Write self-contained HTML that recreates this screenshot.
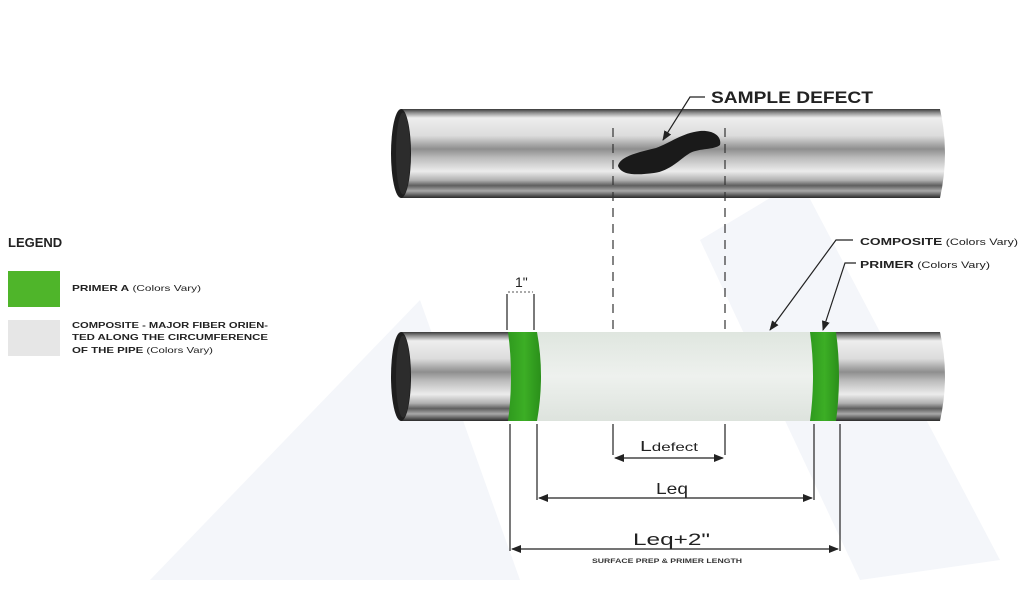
<!DOCTYPE html>
<html><head><meta charset="utf-8"><style>
html,body{margin:0;padding:0;background:#fff;}
svg{display:block;}
text{font-family:"Liberation Sans",Arial,sans-serif;}
</style></head><body>
<svg width="1024" height="614" viewBox="0 0 1024 614" xmlns="http://www.w3.org/2000/svg">
<defs>
<linearGradient id="metal" x1="0" y1="0" x2="0" y2="1">
<stop offset="0" stop-color="#3a3a3a"/>
<stop offset="0.04" stop-color="#8a8a8a"/>
<stop offset="0.1" stop-color="#eeeeee"/>
<stop offset="0.3" stop-color="#dcdcdc"/>
<stop offset="0.45" stop-color="#8e8e8e"/>
<stop offset="0.55" stop-color="#bcbcbc"/>
<stop offset="0.7" stop-color="#ececec"/>
<stop offset="0.8" stop-color="#b0b0b0"/>
<stop offset="0.86" stop-color="#5e5e5e"/>
<stop offset="0.92" stop-color="#a8a8a8"/>
<stop offset="1" stop-color="#2a2a2a"/>
</linearGradient>
<linearGradient id="comp" x1="0" y1="0" x2="0" y2="1">
<stop offset="0" stop-color="#dfe6df"/>
<stop offset="0.5" stop-color="#eef1ee"/>
<stop offset="1" stop-color="#dde3dd"/>
</linearGradient>
<linearGradient id="grn" x1="0" y1="0" x2="1" y2="0">
<stop offset="0" stop-color="#2f9a1e"/>
<stop offset="0.5" stop-color="#3cae25"/>
<stop offset="1" stop-color="#2a8f1a"/>
</linearGradient>
<marker id="ar" markerWidth="10" markerHeight="8" refX="9" refY="4" orient="auto-start-reverse" markerUnits="userSpaceOnUse">
<path d="M0,0 L10,4 L0,8 Z" fill="#222"/></marker>
</defs>
<!-- watermark -->
<g fill="#f4f6fa">
<polygon points="150,580 420,300 520,580"/>
<polygon points="700,240 800,180 1000,560 860,580"/>
</g>
<!-- Pipe 1 -->
<path d="M401,109 L940,109 Q950,153 940,198 L401,198 Z" fill="url(#metal)"/>
<ellipse cx="401" cy="153.5" rx="10" ry="44.5" fill="#1e1e1e"/>
<ellipse cx="403" cy="153.5" rx="7" ry="41" fill="#2c2c2c"/>
<path d="M618,166 C620,156 640,152 656,148 C670,143 682,133 700,131 C713,130 722,136 720,145 C714,150 700,148 690,153 C680,159 670,171 654,173 C638,175 622,176 618,166Z" fill="#1a1a1a"/>
<!-- pipe 2 -->
<path d="M401,332 L940,332 Q950,376 940,421 L401,421 Z" fill="url(#metal)"/>
<ellipse cx="401" cy="376.5" rx="10" ry="44.5" fill="#1e1e1e"/>
<ellipse cx="403" cy="376.5" rx="7" ry="41" fill="#2c2c2c"/>
<path d="M536,332 L815,332 Q822,376 815,421 L536,421 Q543,376 536,332Z" fill="url(#comp)"/>
<path d="M508,332 L537,332 Q545,376 537,421 L508,421 Q514,376 508,332Z" fill="url(#grn)"/>
<path d="M810,332 L836,332 Q842,376 836,421 L810,421 Q816,376 810,332Z" fill="url(#grn)"/>
<g stroke="#333" stroke-width="1.2" stroke-dasharray="9,7" fill="none">
<line x1="613" y1="128" x2="613" y2="330"/>
<line x1="725" y1="128" x2="725" y2="330"/>
</g>
<g stroke="#222" stroke-width="1.2" fill="none">
<line x1="613" y1="424" x2="613" y2="455"/>
<line x1="725" y1="424" x2="725" y2="455"/>
<line x1="615" y1="458" x2="723" y2="458" marker-end="url(#ar)" marker-start="url(#ar)"/>
<line x1="537" y1="424" x2="537" y2="500"/>
<line x1="814" y1="424" x2="814" y2="500"/>
<line x1="539" y1="498" x2="812" y2="498" marker-end="url(#ar)" marker-start="url(#ar)"/>
<line x1="510" y1="424" x2="510" y2="551"/>
<line x1="840" y1="424" x2="840" y2="551"/>
<line x1="512" y1="549" x2="838" y2="549" marker-end="url(#ar)" marker-start="url(#ar)"/>
<line x1="507" y1="294" x2="507" y2="330"/>
<line x1="534" y1="294" x2="534" y2="330"/>
<line x1="508" y1="292" x2="533" y2="292" stroke-dasharray="2,2" stroke="#777"/>
<polyline points="705,97 690,97 663,140" marker-end="url(#ar)"/>
<polyline points="853,240 836,240 770,330" marker-end="url(#ar)"/>
<polyline points="856,263 845,263 823,330" marker-end="url(#ar)"/>
</g>
<text x="711" y="103" font-size="17" font-weight="bold" fill="#222" textLength="162" lengthAdjust="spacingAndGlyphs">SAMPLE DEFECT</text>
<text x="515" y="287" font-size="14" fill="#222">1"</text>
<text x="640" y="451" font-size="15" fill="#222" textLength="58" lengthAdjust="spacingAndGlyphs">L<tspan font-size="12">defect</tspan></text>
<text x="656" y="494" font-size="16" fill="#222" textLength="32" lengthAdjust="spacingAndGlyphs">Leq</text>
<text x="633" y="545" font-size="17" fill="#222" textLength="77" lengthAdjust="spacingAndGlyphs">Leq+2"</text>
<text x="592" y="563" font-size="6.5" font-weight="bold" fill="#333" textLength="150" lengthAdjust="spacingAndGlyphs">SURFACE PREP &amp; PRIMER LENGTH</text>
<text x="860" y="245" font-size="10.5" fill="#222" textLength="158" lengthAdjust="spacingAndGlyphs"><tspan font-weight="bold">COMPOSITE</tspan><tspan font-size="9.5"> (Colors Vary)</tspan></text>
<text x="860" y="268" font-size="10.5" fill="#222" textLength="130" lengthAdjust="spacingAndGlyphs"><tspan font-weight="bold">PRIMER</tspan><tspan font-size="9.5"> (Colors Vary)</tspan></text>
<text x="8" y="247" font-size="13" font-weight="bold" fill="#222">LEGEND</text>
<rect x="8" y="271" width="52" height="36" fill="#4fb52a"/>
<rect x="8" y="320" width="52" height="36" fill="#e6e6e6"/>
<text x="72" y="291" font-size="8.5" fill="#222" textLength="129" lengthAdjust="spacingAndGlyphs"><tspan font-weight="bold">PRIMER A</tspan> (Colors Vary)</text>
<text x="72" y="328" font-size="8" font-weight="bold" fill="#222" textLength="196" lengthAdjust="spacingAndGlyphs">COMPOSITE - MAJOR FIBER ORIEN-</text>
<text x="72" y="340" font-size="8" font-weight="bold" fill="#222" textLength="196" lengthAdjust="spacingAndGlyphs">TED ALONG THE  CIRCUMFERENCE</text>
<text x="72" y="353" font-size="8.5" fill="#222" textLength="141" lengthAdjust="spacingAndGlyphs"><tspan font-weight="bold">OF THE PIPE</tspan> (Colors Vary)</text>
</svg>
</body></html>
